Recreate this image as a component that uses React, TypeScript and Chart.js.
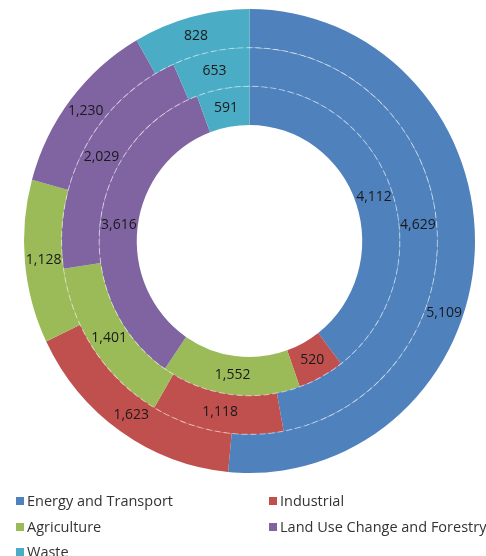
import React, { useEffect, useRef } from "react";
import { Chart, registerables } from "chart.js";

Chart.register(...registerables);

const categories = [
  "Energy and Transport",
  "Industrial",
  "Agriculture",
  "Land Use Change and Forestry",
  "Waste",
];
// outer ring, middle ring, inner ring
const outerValues = [5109, 1623, 1128, 1230, 828];
const middleValues = [4629, 1118, 1401, 2029, 653];
const innerValues = [4112, 520, 1552, 3616, 591];
const colors = ["#4F81BD", "#C0504D", "#9BBB59", "#8064A2", "#4BACC6"];

const SY = 1.029;
const FONT = "'Open Sans', sans-serif";

const ringPlugin = {
  id: "ringDecor",
  beforeDatasetsDraw(chart: any) {
    const arc = chart.getDatasetMeta(0).data[0];
    if (!arc) return;
    const ctx = chart.ctx;
    ctx.save();
    ctx.translate(arc.x, arc.y);
    ctx.scale(1, SY);
    ctx.translate(-arc.x, -arc.y);
  },
  afterDatasetsDraw(chart: any, _args: any, opts: any) {
    const ctx = chart.ctx;
    const arc0 = chart.getDatasetMeta(0).data[0];
    if (!arc0) return;
    const cx = arc0.x;
    const cy = arc0.y;
    // dashed separators between rings
    ctx.setLineDash([6, 3]);
    ctx.strokeStyle = "rgba(255,255,255,0.5)";
    ctx.lineWidth = 1;
    for (let i = 1; i < chart.data.datasets.length; i++) {
      const a = chart.getDatasetMeta(i).data[0];
      const p = a.getProps(["outerRadius"], true);
      ctx.beginPath();
      ctx.arc(cx, cy, p.outerRadius, 0, Math.PI * 2);
      ctx.stroke();
    }
    ctx.setLineDash([]);
    ctx.restore();

    // value labels
    const shifts: any[] = (opts && opts.shifts) || [];
    ctx.save();
    ctx.font = `14px ${FONT}`;
    ctx.fillStyle = "#1a1a1a";
    ctx.textAlign = "center";
    ctx.textBaseline = "middle";
    chart.data.datasets.forEach((ds: any, i: number) => {
      const meta = chart.getDatasetMeta(i);
      meta.data.forEach((el: any, j: number) => {
        const p = el.getProps(
          ["startAngle", "endAngle", "innerRadius", "outerRadius"],
          true
        );
        let mid = (p.startAngle + p.endAngle) / 2;
        const s = shifts.find((q) => q.ds === i && q.index === j);
        if (s) mid += (s.deg * Math.PI) / 180;
        const r = (p.innerRadius + p.outerRadius) / 2;
        const x = cx + r * Math.cos(mid);
        const y = cy + r * Math.sin(mid) * SY;
        ctx.fillText(Number(ds.data[j]).toLocaleString("en-US"), x, y);
      });
    });
    ctx.restore();
  },
  afterDraw(chart: any) {
    const ctx = chart.ctx;
    ctx.save();
    ctx.font = `14.5px ${FONT}`;
    ctx.textBaseline = "middle";
    ctx.textAlign = "left";
    const colX = [16, 269];
    const rowY = [501, 527, 552];
    categories.forEach((label, k) => {
      const col = k % 2;
      const row = Math.floor(k / 2);
      const x = colX[col];
      const y = rowY[row];
      ctx.fillStyle = colors[k];
      ctx.fillRect(x, y - 4, 8, 8);
      ctx.fillStyle = "#333333";
      ctx.fillText(label, x + 11, y + 0.5);
    });
    ctx.restore();
  },
};

export default function App() {
  const canvasRef = useRef<HTMLCanvasElement | null>(null);

  useEffect(() => {
    document.body.style.margin = "0";
    const canvas = canvasRef.current;
    if (!canvas) return;
    const chart = new Chart(canvas, {
      type: "doughnut",
      data: {
        labels: categories,
        datasets: [
          { data: outerValues, backgroundColor: colors, borderWidth: 0 },
          { data: middleValues, backgroundColor: colors, borderWidth: 0 },
          { data: innerValues, backgroundColor: colors, borderWidth: 0 },
        ],
      },
      options: {
        responsive: false,
        animation: false,
        cutout: "50%",
        layout: { padding: { left: 15, right: 2, top: 15.5, bottom: 89.5 } },
        plugins: {
          legend: { display: false },
          tooltip: { enabled: false },
          ringDecor: { shifts: [{ ds: 0, index: 0, deg: 17 }] },
        } as any,
      },
      plugins: [ringPlugin],
    });
    return () => chart.destroy();
  }, []);

  return (
    <div style={{ position: "absolute", left: 0, top: 0, width: 486, height: 556, background: "#fff" }}>
      <canvas ref={canvasRef} width={486} height={556} style={{ width: 486, height: 556 }} />
    </div>
  );
}
